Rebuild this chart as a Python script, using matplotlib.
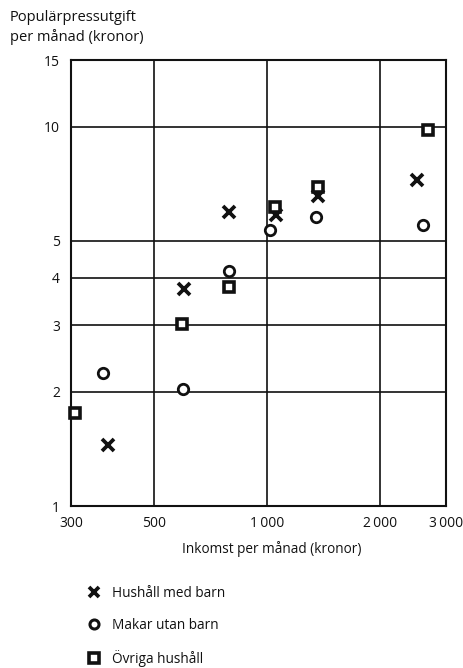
import matplotlib
matplotlib.use("Agg")
import matplotlib.pyplot as plt
from matplotlib.ticker import FixedLocator, NullLocator
from matplotlib.lines import Line2D

plt.rcParams['font.family'] = ['Open Sans', 'DejaVu Sans']

# Monthly income (kronor) and monthly spending on popular press (kronor)
income_med_barn = [376, 600, 790, 1054, 1363, 2516]
spend_med_barn = [1.45, 3.73, 5.95, 5.84, 6.55, 7.22]

income_utan_barn = [365, 596, 790, 1016, 1353, 2610]
spend_utan_barn = [2.24, 2.03, 4.16, 5.33, 5.77, 5.50]

income_ovriga = [307, 592, 790, 1047, 1363, 2692]
spend_ovriga = [1.76, 3.02, 3.78, 6.13, 6.92, 9.78]

series_labels = ["Hushåll med barn", "Makar utan barn", "Övriga hushåll"]

x_ticks = [300, 500, 1000, 2000, 3000]
x_tick_labels = ["300", "500", "1\u2009000", "2\u2009000", "3\u2009000"]
y_ticks = [1, 2, 3, 4, 5, 10, 15]
y_tick_labels = ["1", "2", "3", "4", "5", "10", "15"]
x_grid = [500, 1000, 2000]
y_grid = [2, 3, 4, 5, 10]

fig = plt.figure(figsize=(4.64, 6.68), dpi=100)
ax = fig.add_axes([71 / 464, (668 - 506) / 668, (446 - 71) / 464, (506 - 60) / 668])

ax.set_xscale('log')
ax.set_yscale('log')
ax.set_xlim(300, 3000)
ax.set_ylim(1, 15)

for gx in x_grid:
    ax.axvline(gx, color='#111111', lw=1.2, zorder=1)
for gy in y_grid:
    ax.axhline(gy, color='#111111', lw=1.2, zorder=1)

ax.xaxis.set_major_locator(FixedLocator(x_ticks))
ax.xaxis.set_minor_locator(NullLocator())
ax.set_xticklabels(x_tick_labels)
ax.yaxis.set_major_locator(FixedLocator(y_ticks))
ax.yaxis.set_minor_locator(NullLocator())
ax.set_yticklabels(y_tick_labels)
ax.tick_params(axis='both', length=0, labelsize=10, colors='#111111')
ax.tick_params(axis='x', pad=7)
ax.tick_params(axis='y', pad=8)

for sp in ax.spines.values():
    sp.set_linewidth(1.5)
    sp.set_color('#111111')

ax.plot(income_med_barn, spend_med_barn, ls='none', marker='x', ms=8, mew=2.7,
        color='#111111', zorder=3, clip_on=False)
ax.plot(income_utan_barn, spend_utan_barn, ls='none', marker='o', ms=7.5, mew=2.0,
        mfc='white', mec='#111111', zorder=3, clip_on=False)
ax.plot(income_ovriga, spend_ovriga, ls='none', marker='s', ms=7.5, mew=2.6,
        mfc='white', mec='#111111', zorder=4, clip_on=False)

fig.text(10 / 464, 1 - 10 / 668, "Populärpressutgift\nper månad (kronor)",
         ha='left', va='top', fontsize=10.5, color='#111111', linespacing=1.3)
fig.text(272 / 464, 1 - 549 / 668, "Inkomst per månad (kronor)",
         ha='center', va='center', fontsize=9.8, color='#111111')

handles = [
    Line2D([], [], ls='none', marker='x', ms=7, mew=2.7, color='#111111'),
    Line2D([], [], ls='none', marker='o', ms=6.5, mew=2.2, mfc='white', mec='#111111'),
    Line2D([], [], ls='none', marker='s', ms=6.5, mew=2.6, mfc='white', mec='#111111'),
]
fig.legend(handles, series_labels, loc='upper left',
           bbox_to_anchor=(87 / 464, 1 - 586 / 668), frameon=False,
           prop={'size': 9.8, 'weight': 'medium'},
           labelspacing=1.25, handlelength=1.0, handletextpad=0.85,
           borderpad=0, borderaxespad=0, labelcolor='#111111')

fig.savefig("out.png", dpi=100, facecolor='white')
